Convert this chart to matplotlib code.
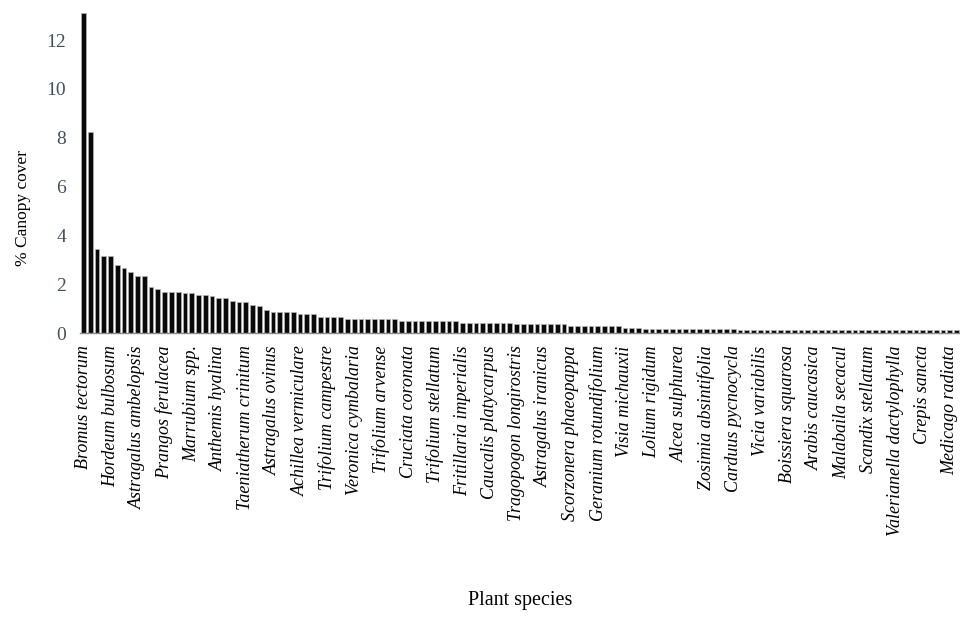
import matplotlib.pyplot as plt

# species labels (every 4th bar carries a label)
species = ["Bromus tectorum", "Hordeum bulbosum", "Astragalus ambelopsis",
           "Prangos ferulacea", "Marrubium spp.", "Anthemis hyalina",
           "Taeniatherum crinitum", "Astragalus ovinus", "Achillea vermiculare",
           "Trifolium campestre", "Veronica cymbalaria", "Trifolium arvense",
           "Cruciata coronata", "Trifolium stellatum", "Fritillaria imperialis",
           "Caucalis platycarpus", "Tragopogon longirostris", "Astragalus iranicus",
           "Scorzonera phaeopappa", "Geranium rotundifolium", "Visia michauxii",
           "Lolium rigidum", "Alcea sulphurea", "Zosimia absintifolia",
           "Carduus pycnocycla", "Vicia variabilis", "Boissiera squarosa",
           "Arabis caucasica", "Malabaila secacul", "Scandix stellatum",
           "Valerianella dactylophylla", "Crepis sancta", "Medicago radiata"]

# % canopy cover, one value per species (sorted)
cover = [13.1, 8.25, 3.45, 3.15, 3.15, 2.78, 2.65, 2.5, 2.35, 2.35,
         1.9, 1.8, 1.66, 1.66, 1.66, 1.64, 1.64, 1.56, 1.56, 1.5,
         1.42, 1.42, 1.33, 1.26, 1.26, 1.16, 1.1, 0.95, 0.88, 0.88,
         0.88, 0.88, 0.78, 0.78, 0.78, 0.65, 0.65, 0.65, 0.65, 0.58,
         0.58, 0.58, 0.58, 0.58, 0.58, 0.58, 0.58, 0.5, 0.5, 0.5,
         0.5, 0.5, 0.5, 0.5, 0.5, 0.5, 0.43, 0.43, 0.43, 0.43,
         0.43, 0.43, 0.43, 0.43, 0.35, 0.35, 0.35, 0.35, 0.35, 0.35,
         0.35, 0.35, 0.27, 0.27, 0.27, 0.27, 0.27, 0.27, 0.27, 0.27,
         0.22, 0.22, 0.22, 0.16, 0.16, 0.16, 0.16, 0.16, 0.16, 0.16,
         0.16, 0.16, 0.16, 0.16, 0.16, 0.16, 0.16, 0.11, 0.11, 0.11,
         0.11, 0.11, 0.11, 0.11, 0.11, 0.11, 0.11, 0.11, 0.11, 0.11,
         0.11, 0.11, 0.11, 0.11, 0.11, 0.11, 0.11, 0.11, 0.11, 0.11,
         0.11, 0.11, 0.11, 0.11, 0.11, 0.11, 0.11, 0.11, 0.11, 0.11]

label_step = 4
serif = ["Liberation Serif", "DejaVu Serif"]

fig = plt.figure(figsize=(9.6, 6.17), dpi=100)
ax = fig.add_axes([80/960, 1-333/617, 880/960, 321/617])

ax.bar(range(len(cover)), cover, width=0.7, color="#0a0a0a",
       edgecolor="#b5b5b5", linewidth=0.5)

ax.set_xlim(-0.5, len(cover) - 0.5)
ax.set_ylim(0, 13.15)
ax.set_yticks([0, 2, 4, 6, 8, 10, 12])

ax.set_xticks(range(0, len(cover), label_step))
ax.set_xticklabels(species, rotation=90, ha="center", va="top",
                   family=serif, style="italic", fontsize=13)
for lab in ax.get_yticklabels():
    lab.set_family(serif)
    lab.set_fontsize(14)
    lab.set_color("#44505f")

ax.tick_params(axis="x", length=0, pad=9)
ax.tick_params(axis="y", length=0, pad=10)

for s in ["top", "right", "left"]:
    ax.spines[s].set_visible(False)
ax.spines["bottom"].set_color("#8a8a8a")
ax.spines["bottom"].set_linewidth(1.0)

ax.set_ylabel("% Canopy cover", family=serif, fontsize=12.5)
ax.yaxis.set_label_coords(-0.056, 0.39)
ax.set_xlabel("Plant species", family=serif, fontsize=14.5)
ax.xaxis.set_label_coords(0.5, -0.805)

fig.savefig("out.png", dpi=100)
